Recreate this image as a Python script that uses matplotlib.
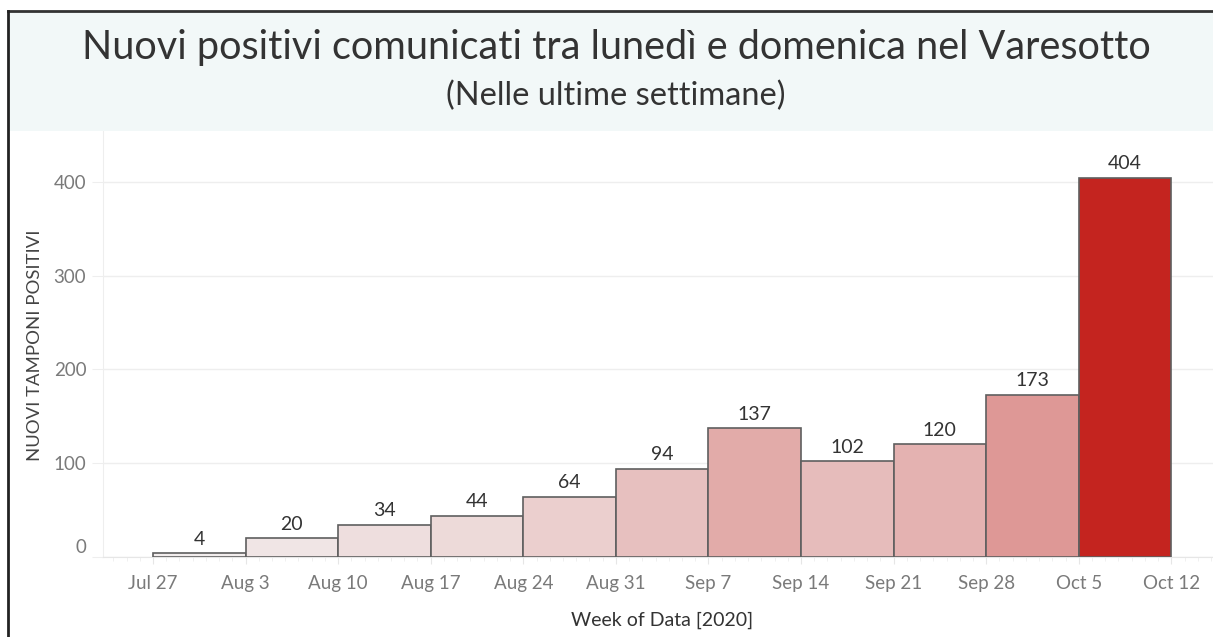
import matplotlib
matplotlib.use("Agg")
import matplotlib.pyplot as plt
from matplotlib.colors import LinearSegmentedColormap
from matplotlib.patches import Rectangle
from matplotlib.lines import Line2D
from matplotlib.ticker import MultipleLocator
import matplotlib.transforms as mtransforms

weeks = ["Jul 27", "Aug 3", "Aug 10", "Aug 17", "Aug 24", "Aug 31",
         "Sep 7", "Sep 14", "Sep 21", "Sep 28", "Oct 5"]
tick_labels = weeks + ["Oct 12"]
values = [4, 20, 34, 44, 64, 94, 137, 102, 120, 173, 404]
yticks = [0, 100, 200, 300, 400]

title = "Nuovi positivi comunicati tra lunedì e domenica nel Varesotto"
subtitle = "(Nelle ultime settimane)"
ylabel = "NUOVI TAMPONI POSITIVI"
xlabel = "Week of Data [2020]"

plt.rcParams['font.family'] = ['Lato', 'DejaVu Sans']

W, H = 1213, 637
fig = plt.figure(figsize=(W / 100, H / 100), dpi=100)

def fx(px):
    return px / W

def fy(py):
    return 1 - py / H

# title band
band = Rectangle((fx(8), fy(131)), 1 - fx(8), fy(11) - fy(131),
                 transform=fig.transFigure, facecolor="#f2f8f8",
                 edgecolor="none", zorder=0)
fig.patches.append(band)
fig.add_artist(Line2D([fx(8), 1], [fy(11), fy(11)], transform=fig.transFigure,
                      color="#333333", lw=2))
fig.add_artist(Line2D([fx(8), fx(8)], [fy(11), 0], transform=fig.transFigure,
                      color="#222222", lw=2))

fig.text(fx(616), fy(48), title, ha="center", va="center", fontsize=28.5,
         color="#333333")
fig.text(fx(616), fy(96), subtitle, ha="center", va="center", fontsize=23.5,
         color="#333333")

ax = fig.add_axes([fx(103), fy(557), 1 - fx(103), fy(131) - fy(557)])
ax.set_xlim(-0.54, 11.45)
ax.set_ylim(0, 454)

cmap = LinearSegmentedColormap.from_list("tr", ["#f2efef", "#c4241f"])
vmax = max(values)
colors = [cmap(v / vmax) for v in values]
x = list(range(len(values)))
ax.bar(x, values, width=1.0, align="edge", color=colors,
       edgecolor="#5f5f5f", linewidth=1.2, zorder=3)

for xi, v in zip(x, values):
    ax.text(xi + 0.5, v + 6, str(v), ha="center", va="bottom",
            fontsize=14, color="#333333", zorder=4)

ax.set_xticks(range(len(tick_labels)))
ax.set_xticklabels(tick_labels)
ax.xaxis.set_minor_locator(MultipleLocator(1 / 7))
ax.tick_params(axis="x", which="major", length=5, color="#e6e6e6",
               labelsize=13.5, labelcolor="#7a7a7a", pad=8)
ax.tick_params(axis="x", which="minor", length=3, color="#eeeeee")

ax.set_yticks(yticks)
ax.set_yticklabels([str(t) for t in yticks])
ax.tick_params(axis="y", length=8, color="#eeeeee", labelsize=13.5,
               labelcolor="#7a7a7a", pad=4)
for lab in ax.get_yticklabels():
    if lab.get_text() == "0":
        lab.set_transform(lab.get_transform() +
                          mtransforms.ScaledTranslation(0, 11 / 100, fig.dpi_scale_trans))

ax.grid(axis="y", color="#eeeeee", linewidth=1, zorder=0)
ax.set_axisbelow(True)
for s in ["top", "right"]:
    ax.spines[s].set_visible(False)
ax.spines["left"].set_color("#eeeeee")
ax.spines["bottom"].set_color("#e6e6e6")

fig.text(fx(35), fy(345), ylabel, rotation=90, ha="center", va="center",
         fontsize=13.3, color="#444444")
fig.text(fx(662), fy(620), xlabel, ha="center", va="center", fontsize=14,
         color="#333333")

fig.savefig("out.png", dpi=100)
